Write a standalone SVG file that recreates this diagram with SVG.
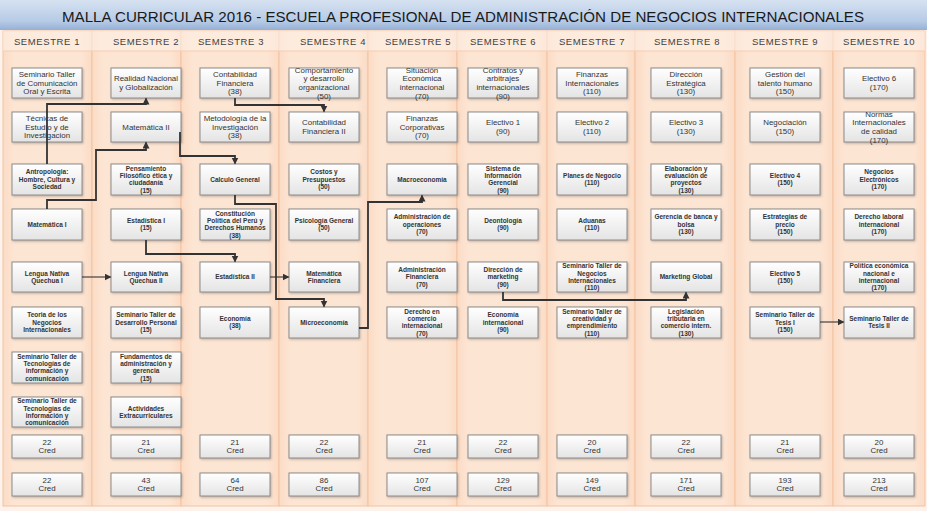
<svg xmlns="http://www.w3.org/2000/svg" width="927" height="511" viewBox="0 0 927 511">
<defs>
<linearGradient id="tg" x1="0" y1="0" x2="0" y2="1"><stop offset="0" stop-color="#d6e2f1"/><stop offset="0.7" stop-color="#b7cbe6"/><stop offset="1" stop-color="#95b0d6"/></linearGradient>
<linearGradient id="cg" x1="0" y1="0" x2="1" y2="0"><stop offset="0" stop-color="#fbdbc5"/><stop offset="0.12" stop-color="#fde5d3"/><stop offset="0.88" stop-color="#fde5d3"/><stop offset="1" stop-color="#fbdbc5"/></linearGradient>
<linearGradient id="bg" x1="0" y1="0" x2="0" y2="1"><stop offset="0" stop-color="#ffffff"/><stop offset="1" stop-color="#e4e4e4"/></linearGradient>
<filter id="ds" x="-10%" y="-10%" width="130%" height="140%"><feDropShadow dx="1" dy="1.2" stdDeviation="0.8" flood-color="#7a6a60" flood-opacity="0.45"/></filter>
<marker id="ar" markerUnits="userSpaceOnUse" markerWidth="8" markerHeight="8" refX="6" refY="3.5" orient="auto"><path d="M0,0 L7,3.5 L0,7 z" fill="#333"/></marker>
</defs>
<style>
.col{fill:url(#cg);stroke:#f4c3a2;stroke-width:1}
.hd{font-family:"Liberation Sans",Arial,sans-serif;font-size:9.5px;fill:#404040;letter-spacing:0.6px;text-anchor:middle}
.node rect{fill:url(#bg);stroke:#8c8c8c;stroke-width:1;filter:url(#ds)}
.r{font-family:"Liberation Sans",Arial,sans-serif;font-size:7.9px;fill:#333;text-anchor:middle}
.b{font-family:"Liberation Sans",Arial,sans-serif;font-size:6.5px;font-weight:bold;fill:#333;text-anchor:middle}
.cn{fill:none;stroke:#333;stroke-width:1.8}
.cn2{fill:none;stroke:#333;stroke-width:1.1}
</style>
<rect x="0" y="0" width="927" height="511" fill="#fdf3ec"/>
<rect x="0" y="0" width="927" height="30" fill="url(#tg)"/>
<text x="463" y="22" font-family="Liberation Sans,Arial,sans-serif" font-size="15.5" fill="#1a1a1a" text-anchor="middle" textLength="802" lengthAdjust="spacingAndGlyphs">MALLA CURRICULAR 2016 - ESCUELA PROFESIONAL DE ADMINISTRACIÓN DE NEGOCIOS INTERNACIONALES</text>
<g id="columns">
<rect class="col" x="3" y="31" width="89" height="475"/>
<rect class="col" x="92" y="31" width="89" height="475"/>
<rect class="col" x="181" y="31" width="98" height="475"/>
<rect class="col" x="279" y="31" width="89" height="475"/>
<rect class="col" x="368" y="31" width="89" height="475"/>
<rect class="col" x="457" y="31" width="90" height="475"/>
<rect class="col" x="547" y="31" width="88" height="475"/>
<rect class="col" x="635" y="31" width="100" height="475"/>
<rect class="col" x="735" y="31" width="98" height="475"/>
<rect class="col" x="833" y="31" width="92" height="475"/>
<rect x="3" y="31" width="922" height="20" fill="#fef0e6" opacity="0.6"/>
<line x1="3" y1="51" x2="925" y2="51" stroke="#f6cdb0" stroke-width="1"/>
</g>
<g id="headers">
<text class="hd" x="47" y="45">SEMESTRE 1</text>
<text class="hd" x="146" y="45">SEMESTRE 2</text>
<text class="hd" x="231" y="45">SEMESTRE 3</text>
<text class="hd" x="333" y="45">SEMESTRE 4</text>
<text class="hd" x="418" y="45">SEMESTRE 5</text>
<text class="hd" x="503" y="45">SEMESTRE 6</text>
<text class="hd" x="592" y="45">SEMESTRE 7</text>
<text class="hd" x="687" y="45">SEMESTRE 8</text>
<text class="hd" x="785" y="45">SEMESTRE 9</text>
<text class="hd" x="879" y="45">SEMESTRE 10</text>
</g>

<!-- Column 1 -->
<g id="s1r1" class="node"><rect x="12" y="68" width="70" height="30"/><text class="r"><tspan x="47" y="76.9">Seminario Taller</tspan><tspan x="47" y="85.6">de Comunicación</tspan><tspan x="47" y="94.3">Oral y Escrita</tspan></text></g>
<g id="s1r2" class="node"><rect x="12" y="112" width="70" height="30"/><text class="r"><tspan x="47" y="120.9">Técnicas de</tspan><tspan x="47" y="129.6">Estudio y de</tspan><tspan x="47" y="138.3">Investigacion</tspan></text></g>
<g id="s1r3" class="node"><rect x="12" y="164" width="70" height="31"/><text class="b"><tspan x="47" y="174.4">Antropologia:</tspan><tspan x="47" y="181.7">Hombre, Cultura y</tspan><tspan x="47" y="189">Sociedad</tspan></text></g>
<g id="s1r4" class="node"><rect x="12" y="209" width="70" height="31"/><text class="b"><tspan x="47" y="226.7">Matemática I</tspan></text></g>
<g id="s1r5" class="node"><rect x="12" y="262" width="70" height="30"/><text class="b"><tspan x="47" y="275.5">Lengua Nativa</tspan><tspan x="47" y="282.8">Quechua I</tspan></text></g>
<g id="s1r6" class="node"><rect x="12" y="307" width="70" height="31"/><text class="b"><tspan x="47" y="317.4">Teoria de los</tspan><tspan x="47" y="324.7">Negocios</tspan><tspan x="47" y="332">Internacionales</tspan></text></g>
<g id="s1r7" class="node"><rect x="12" y="352" width="70" height="31"/><text class="b"><tspan x="47" y="358.7">Seminario Taller de</tspan><tspan x="47" y="366">Tecnologías de</tspan><tspan x="47" y="373.3">información y</tspan><tspan x="47" y="380.6">comunicación</tspan></text></g>
<g id="s1r8" class="node"><rect x="12" y="397" width="70" height="30"/><text class="b"><tspan x="47" y="403.2">Seminario Taller de</tspan><tspan x="47" y="410.5">Tecnologías de</tspan><tspan x="47" y="417.8">información y</tspan><tspan x="47" y="425.1">comunicación</tspan></text></g>
<g id="s1c1" class="node"><rect x="12" y="435" width="70" height="23"/><text class="r"><tspan x="47" y="445.1">22</tspan><tspan x="47" y="453.1">Cred</tspan></text></g>
<g id="s1c2" class="node"><rect x="12" y="473" width="70" height="23"/><text class="r"><tspan x="47" y="483.1">22</tspan><tspan x="47" y="491.1">Cred</tspan></text></g>

<!-- Column 2 -->
<g id="s2r1" class="node"><rect x="111" y="68" width="70" height="30"/><text class="r"><tspan x="146" y="81.3">Realidad Nacional</tspan><tspan x="146" y="90">y Globalización</tspan></text></g>
<g id="s2r2" class="node"><rect x="111" y="112" width="70" height="30"/><text class="r"><tspan x="146" y="129.6">Matemática II</tspan></text></g>
<g id="s2r3" class="node"><rect x="111" y="164" width="70" height="31"/><text class="b"><tspan x="146" y="170.8">Pensamiento</tspan><tspan x="146" y="178.1">Filosófico ética y</tspan><tspan x="146" y="185.4">ciudadanía</tspan><tspan x="146" y="192.7">(15)</tspan></text></g>
<g id="s2r4" class="node"><rect x="111" y="209" width="70" height="31"/><text class="b"><tspan x="146" y="223">Estadística I</tspan><tspan x="146" y="230.3">(15)</tspan></text></g>
<g id="s2r5" class="node"><rect x="111" y="262" width="70" height="30"/><text class="b"><tspan x="146" y="275.5">Lengua Nativa</tspan><tspan x="146" y="282.8">Quechua II</tspan></text></g>
<g id="s2r6" class="node"><rect x="111" y="307" width="70" height="31"/><text class="b"><tspan x="146" y="317.4">Seminario Taller de</tspan><tspan x="146" y="324.7">Desarrollo Personal</tspan><tspan x="146" y="332">(15)</tspan></text></g>
<g id="s2r7" class="node"><rect x="111" y="352" width="70" height="31"/><text class="b"><tspan x="146" y="358.7">Fundamentos de</tspan><tspan x="146" y="366">administración y</tspan><tspan x="146" y="373.3">gerencia</tspan><tspan x="146" y="380.6">(15)</tspan></text></g>
<g id="s2r8" class="node"><rect x="111" y="397" width="70" height="30"/><text class="b"><tspan x="146" y="410.5">Actividades</tspan><tspan x="146" y="417.8">Extracurriculares</tspan></text></g>
<g id="s2c1" class="node"><rect x="111" y="435" width="70" height="23"/><text class="r"><tspan x="146" y="445.1">21</tspan><tspan x="146" y="453.1">Cred</tspan></text></g>
<g id="s2c2" class="node"><rect x="111" y="473" width="70" height="23"/><text class="r"><tspan x="146" y="483.1">43</tspan><tspan x="146" y="491.1">Cred</tspan></text></g>

<!-- Column 3 -->
<g id="s3r1" class="node"><rect x="200" y="68" width="70" height="30"/><text class="r"><tspan x="235" y="76.9">Contabilidad</tspan><tspan x="235" y="85.6">Financiera</tspan><tspan x="235" y="94.3">(38)</tspan></text></g>
<g id="s3r2" class="node"><rect x="200" y="112" width="70" height="30"/><text class="r"><tspan x="235" y="120.9">Metodología de la</tspan><tspan x="235" y="129.6">Investigación</tspan><tspan x="235" y="138.3">(38)</tspan></text></g>
<g id="s3r3" class="node"><rect x="200" y="164" width="70" height="31"/><text class="b"><tspan x="235" y="181.7">Calculo General</tspan></text></g>
<g id="s3r4" class="node"><rect x="200" y="209" width="70" height="31"/><text class="b"><tspan x="235" y="215.8">Constitución</tspan><tspan x="235" y="223.1">Política del Perú y</tspan><tspan x="235" y="230.4">Derechos Humanos</tspan><tspan x="235" y="237.7">(38)</tspan></text></g>
<g id="s3r5" class="node"><rect x="200" y="262" width="70" height="30"/><text class="b"><tspan x="235" y="279.2">Estadística II</tspan></text></g>
<g id="s3r6" class="node"><rect x="200" y="307" width="70" height="31"/><text class="b"><tspan x="235" y="321">Economía</tspan><tspan x="235" y="328.3">(38)</tspan></text></g>
<g id="s3c1" class="node"><rect x="200" y="435" width="70" height="23"/><text class="r"><tspan x="235" y="445.1">21</tspan><tspan x="235" y="453.1">Cred</tspan></text></g>
<g id="s3c2" class="node"><rect x="200" y="473" width="70" height="23"/><text class="r"><tspan x="235" y="483.1">64</tspan><tspan x="235" y="491.1">Cred</tspan></text></g>

<!-- Column 4 -->
<g id="s4r1" class="node"><rect x="289" y="68" width="70" height="30"/><text class="r"><tspan x="324" y="72.6">Comportamiento</tspan><tspan x="324" y="81.3">y desarrollo</tspan><tspan x="324" y="90">organizacional</tspan><tspan x="324" y="98.7">(50)</tspan></text></g>
<g id="s4r2" class="node"><rect x="289" y="112" width="70" height="30"/><text class="r"><tspan x="324" y="125.3">Contabilidad</tspan><tspan x="324" y="134">Financiera II</tspan></text></g>
<g id="s4r3" class="node"><rect x="289" y="164" width="70" height="31"/><text class="b"><tspan x="324" y="174.4">Costos y</tspan><tspan x="324" y="181.7">Presupuestos</tspan><tspan x="324" y="189">(50)</tspan></text></g>
<g id="s4r4" class="node"><rect x="289" y="209" width="70" height="31"/><text class="b"><tspan x="324" y="223">Psicología General</tspan><tspan x="324" y="230.3">(50)</tspan></text></g>
<g id="s4r5" class="node"><rect x="289" y="262" width="70" height="30"/><text class="b"><tspan x="324" y="275.5">Matemática</tspan><tspan x="324" y="282.8">Financiera</tspan></text></g>
<g id="s4r6" class="node"><rect x="289" y="307" width="70" height="31"/><text class="b"><tspan x="324" y="324.7">Microeconomía</tspan></text></g>
<g id="s4c1" class="node"><rect x="289" y="435" width="70" height="23"/><text class="r"><tspan x="324" y="445.1">22</tspan><tspan x="324" y="453.1">Cred</tspan></text></g>
<g id="s4c2" class="node"><rect x="289" y="473" width="70" height="23"/><text class="r"><tspan x="324" y="483.1">86</tspan><tspan x="324" y="491.1">Cred</tspan></text></g>

<!-- Column 5 -->
<g id="s5r1" class="node"><rect x="387" y="68" width="70" height="30"/><text class="r"><tspan x="422" y="72.6">Situación</tspan><tspan x="422" y="81.3">Económica</tspan><tspan x="422" y="90">internacional</tspan><tspan x="422" y="98.7">(70)</tspan></text></g>
<g id="s5r2" class="node"><rect x="387" y="112" width="70" height="30"/><text class="r"><tspan x="422" y="120.9">Finanzas</tspan><tspan x="422" y="129.6">Corporativas</tspan><tspan x="422" y="138.3">(70)</tspan></text></g>
<g id="s5r3" class="node"><rect x="387" y="164" width="70" height="31"/><text class="b"><tspan x="422" y="181.7">Macroeconomía</tspan></text></g>
<g id="s5r4" class="node"><rect x="387" y="209" width="70" height="31"/><text class="b"><tspan x="422" y="219.4">Administración de</tspan><tspan x="422" y="226.7">operaciones</tspan><tspan x="422" y="234">(70)</tspan></text></g>
<g id="s5r5" class="node"><rect x="387" y="262" width="70" height="30"/><text class="b"><tspan x="422" y="271.9">Administración</tspan><tspan x="422" y="279.2">Financiera</tspan><tspan x="422" y="286.5">(70)</tspan></text></g>
<g id="s5r6" class="node"><rect x="387" y="307" width="70" height="31"/><text class="b"><tspan x="422" y="313.7">Derecho en</tspan><tspan x="422" y="321">comercio</tspan><tspan x="422" y="328.3">internacional</tspan><tspan x="422" y="335.6">(70)</tspan></text></g>
<g id="s5c1" class="node"><rect x="387" y="435" width="70" height="23"/><text class="r"><tspan x="422" y="445.1">21</tspan><tspan x="422" y="453.1">Cred</tspan></text></g>
<g id="s5c2" class="node"><rect x="387" y="473" width="70" height="23"/><text class="r"><tspan x="422" y="483.1">107</tspan><tspan x="422" y="491.1">Cred</tspan></text></g>

<!-- Column 6 -->
<g id="s6r1" class="node"><rect x="468" y="68" width="70" height="30"/><text class="r"><tspan x="503" y="72.6">Contratos y</tspan><tspan x="503" y="81.3">arbitrajes</tspan><tspan x="503" y="90">internacionales</tspan><tspan x="503" y="98.7">(90)</tspan></text></g>
<g id="s6r2" class="node"><rect x="468" y="112" width="70" height="30"/><text class="r"><tspan x="503" y="125.3">Electivo 1</tspan><tspan x="503" y="134">(90)</tspan></text></g>
<g id="s6r3" class="node"><rect x="468" y="164" width="70" height="31"/><text class="b"><tspan x="503" y="170.8">Sistema de</tspan><tspan x="503" y="178.1">Información</tspan><tspan x="503" y="185.4">Gerencial</tspan><tspan x="503" y="192.7">(90)</tspan></text></g>
<g id="s6r4" class="node"><rect x="468" y="209" width="70" height="31"/><text class="b"><tspan x="503" y="223">Deontología</tspan><tspan x="503" y="230.3">(90)</tspan></text></g>
<g id="s6r5" class="node"><rect x="468" y="262" width="70" height="30"/><text class="b"><tspan x="503" y="271.9">Dirección de</tspan><tspan x="503" y="279.2">marketing</tspan><tspan x="503" y="286.5">(90)</tspan></text></g>
<g id="s6r6" class="node"><rect x="468" y="307" width="70" height="31"/><text class="b"><tspan x="503" y="317.4">Economía</tspan><tspan x="503" y="324.7">internacional</tspan><tspan x="503" y="332">(90)</tspan></text></g>
<g id="s6c1" class="node"><rect x="468" y="435" width="70" height="23"/><text class="r"><tspan x="503" y="445.1">22</tspan><tspan x="503" y="453.1">Cred</tspan></text></g>
<g id="s6c2" class="node"><rect x="468" y="473" width="70" height="23"/><text class="r"><tspan x="503" y="483.1">129</tspan><tspan x="503" y="491.1">Cred</tspan></text></g>

<!-- Column 7 -->
<g id="s7r1" class="node"><rect x="557" y="68" width="70" height="30"/><text class="r"><tspan x="592" y="76.9">Finanzas</tspan><tspan x="592" y="85.6">Internacionales</tspan><tspan x="592" y="94.3">(110)</tspan></text></g>
<g id="s7r2" class="node"><rect x="557" y="112" width="70" height="30"/><text class="r"><tspan x="592" y="125.3">Electivo 2</tspan><tspan x="592" y="134">(110)</tspan></text></g>
<g id="s7r3" class="node"><rect x="557" y="164" width="70" height="31"/><text class="b"><tspan x="592" y="178">Planes de Negocio</tspan><tspan x="592" y="185.3">(110)</tspan></text></g>
<g id="s7r4" class="node"><rect x="557" y="209" width="70" height="31"/><text class="b"><tspan x="592" y="223">Aduanas</tspan><tspan x="592" y="230.3">(110)</tspan></text></g>
<g id="s7r5" class="node"><rect x="557" y="262" width="70" height="30"/><text class="b"><tspan x="592" y="268.2">Seminario Taller de</tspan><tspan x="592" y="275.5">Negocios</tspan><tspan x="592" y="282.8">Internacionales</tspan><tspan x="592" y="290.1">(110)</tspan></text></g>
<g id="s7r6" class="node"><rect x="557" y="307" width="70" height="31"/><text class="b"><tspan x="592" y="313.7">Seminario Taller de</tspan><tspan x="592" y="321">creatividad y</tspan><tspan x="592" y="328.3">emprendimiento</tspan><tspan x="592" y="335.6">(110)</tspan></text></g>
<g id="s7c1" class="node"><rect x="557" y="435" width="70" height="23"/><text class="r"><tspan x="592" y="445.1">20</tspan><tspan x="592" y="453.1">Cred</tspan></text></g>
<g id="s7c2" class="node"><rect x="557" y="473" width="70" height="23"/><text class="r"><tspan x="592" y="483.1">149</tspan><tspan x="592" y="491.1">Cred</tspan></text></g>

<!-- Column 8 -->
<g id="s8r1" class="node"><rect x="651" y="68" width="70" height="30"/><text class="r"><tspan x="686" y="76.9">Dirección</tspan><tspan x="686" y="85.6">Estratégica</tspan><tspan x="686" y="94.3">(130)</tspan></text></g>
<g id="s8r2" class="node"><rect x="651" y="112" width="70" height="30"/><text class="r"><tspan x="686" y="125.3">Electivo 3</tspan><tspan x="686" y="134">(130)</tspan></text></g>
<g id="s8r3" class="node"><rect x="651" y="164" width="70" height="31"/><text class="b"><tspan x="686" y="170.8">Elaboración y</tspan><tspan x="686" y="178.1">evaluación de</tspan><tspan x="686" y="185.4">proyectos</tspan><tspan x="686" y="192.7">(130)</tspan></text></g>
<g id="s8r4" class="node"><rect x="651" y="209" width="70" height="31"/><text class="b"><tspan x="686" y="219.4">Gerencia de banca y</tspan><tspan x="686" y="226.7">bolsa</tspan><tspan x="686" y="234">(130)</tspan></text></g>
<g id="s8r5" class="node"><rect x="651" y="262" width="70" height="30"/><text class="b"><tspan x="686" y="279.2">Marketing Global</tspan></text></g>
<g id="s8r6" class="node"><rect x="651" y="307" width="70" height="31"/><text class="b"><tspan x="686" y="313.7">Legislación</tspan><tspan x="686" y="321">tributaria en</tspan><tspan x="686" y="328.3">comercio intern.</tspan><tspan x="686" y="335.6">(130)</tspan></text></g>
<g id="s8c1" class="node"><rect x="651" y="435" width="70" height="23"/><text class="r"><tspan x="686" y="445.1">22</tspan><tspan x="686" y="453.1">Cred</tspan></text></g>
<g id="s8c2" class="node"><rect x="651" y="473" width="70" height="23"/><text class="r"><tspan x="686" y="483.1">171</tspan><tspan x="686" y="491.1">Cred</tspan></text></g>

<!-- Column 9 -->
<g id="s9r1" class="node"><rect x="750" y="68" width="70" height="30"/><text class="r"><tspan x="785" y="76.9">Gestión del</tspan><tspan x="785" y="85.6">talento humano</tspan><tspan x="785" y="94.3">(150)</tspan></text></g>
<g id="s9r2" class="node"><rect x="750" y="112" width="70" height="30"/><text class="r"><tspan x="785" y="125.3">Negociación</tspan><tspan x="785" y="134">(150)</tspan></text></g>
<g id="s9r3" class="node"><rect x="750" y="164" width="70" height="31"/><text class="b"><tspan x="785" y="178">Electivo 4</tspan><tspan x="785" y="185.3">(150)</tspan></text></g>
<g id="s9r4" class="node"><rect x="750" y="209" width="70" height="31"/><text class="b"><tspan x="785" y="219.4">Estrategias de</tspan><tspan x="785" y="226.7">precio</tspan><tspan x="785" y="234">(150)</tspan></text></g>
<g id="s9r5" class="node"><rect x="750" y="262" width="70" height="30"/><text class="b"><tspan x="785" y="275.5">Electivo 5</tspan><tspan x="785" y="282.8">(150)</tspan></text></g>
<g id="s9r6" class="node"><rect x="750" y="307" width="70" height="31"/><text class="b"><tspan x="785" y="317.4">Seminario Taller de</tspan><tspan x="785" y="324.7">Tesis I</tspan><tspan x="785" y="332">(150)</tspan></text></g>
<g id="s9c1" class="node"><rect x="750" y="435" width="70" height="23"/><text class="r"><tspan x="785" y="445.1">21</tspan><tspan x="785" y="453.1">Cred</tspan></text></g>
<g id="s9c2" class="node"><rect x="750" y="473" width="70" height="23"/><text class="r"><tspan x="785" y="483.1">193</tspan><tspan x="785" y="491.1">Cred</tspan></text></g>

<!-- Column 10 -->
<g id="s10r1" class="node"><rect x="844" y="68" width="70" height="30"/><text class="r"><tspan x="879" y="81.3">Electivo 6</tspan><tspan x="879" y="90">(170)</tspan></text></g>
<g id="s10r2" class="node"><rect x="844" y="112" width="70" height="30"/><text class="r"><tspan x="879" y="116.6">Normas</tspan><tspan x="879" y="125.3">Internacionales</tspan><tspan x="879" y="134">de calidad</tspan><tspan x="879" y="142.7">(170)</tspan></text></g>
<g id="s10r3" class="node"><rect x="844" y="164" width="70" height="31"/><text class="b"><tspan x="879" y="174.4">Negocios</tspan><tspan x="879" y="181.7">Electrónicos</tspan><tspan x="879" y="189">(170)</tspan></text></g>
<g id="s10r4" class="node"><rect x="844" y="209" width="70" height="31"/><text class="b"><tspan x="879" y="219.4">Derecho laboral</tspan><tspan x="879" y="226.7">internacional</tspan><tspan x="879" y="234">(170)</tspan></text></g>
<g id="s10r5" class="node"><rect x="844" y="262" width="70" height="30"/><text class="b"><tspan x="879" y="268.2">Política económica</tspan><tspan x="879" y="275.5">nacional e</tspan><tspan x="879" y="282.8">internacional</tspan><tspan x="879" y="290.1">(170)</tspan></text></g>
<g id="s10r6" class="node"><rect x="844" y="307" width="70" height="31"/><text class="b"><tspan x="879" y="321">Seminario Taller de</tspan><tspan x="879" y="328.3">Tesis II</tspan></text></g>
<g id="s10c1" class="node"><rect x="844" y="435" width="70" height="23"/><text class="r"><tspan x="879" y="445.1">20</tspan><tspan x="879" y="453.1">Cred</tspan></text></g>
<g id="s10c2" class="node"><rect x="844" y="473" width="70" height="23"/><text class="r"><tspan x="879" y="483.1">213</tspan><tspan x="879" y="491.1">Cred</tspan></text></g>

<g id="connectors">
<path class="cn" d="M47,164 V104 H146 V98.5" marker-end="url(#ar)"/>
<path class="cn" d="M47,209 V200 H96 V150 H146 V142.5" marker-end="url(#ar)"/>
<path class="cn" d="M180,132 V156 H235 V163.5" marker-end="url(#ar)"/>
<path class="cn" d="M235,98 V105 H324 V111.5" marker-end="url(#ar)"/>
<path class="cn" d="M235,195 V204 H276 V299 H324 V306.5" marker-end="url(#ar)"/>
<path class="cn" d="M146,240 V254 H235 V261.5" marker-end="url(#ar)"/>
<path class="cn2" d="M82,277 H110.5" marker-end="url(#ar)"/>
<path class="cn2" d="M270,277 H288.5" marker-end="url(#ar)"/>
<path class="cn" d="M359,328 H368 V202 H422 V195.5" marker-end="url(#ar)"/>
<path class="cn" d="M503,292 V300 H686 V292.5" marker-end="url(#ar)"/>
<path class="cn2" d="M820,322 H843.5" marker-end="url(#ar)"/>
</g>
</svg>
